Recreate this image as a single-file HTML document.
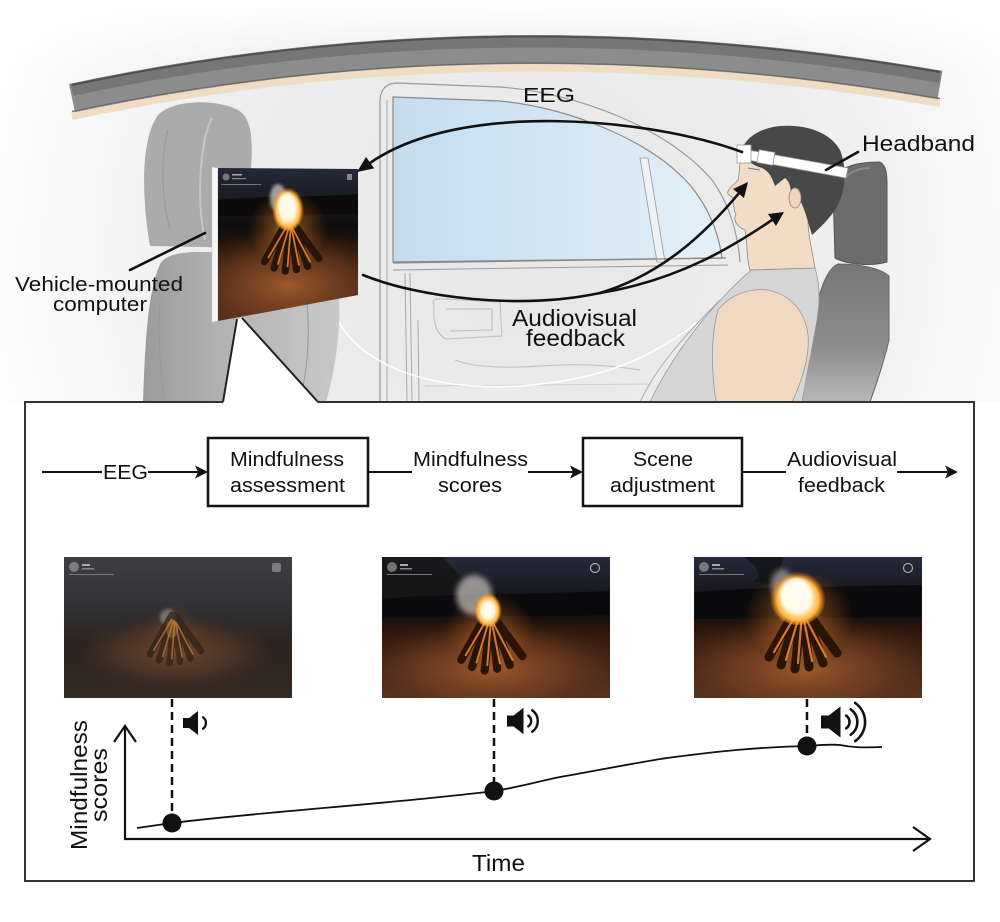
<!DOCTYPE html>
<html><head><meta charset="utf-8"><style>
html,body{margin:0;padding:0;background:#fff;}
svg{display:block;}
text{font-family:"Liberation Sans",Arial,sans-serif;fill:#111;}
</style></head><body>
<svg width="1000" height="922" viewBox="0 0 1000 922" xmlns="http://www.w3.org/2000/svg">
<defs>
 <radialGradient id="bg" cx="520" cy="250" r="560" gradientUnits="userSpaceOnUse">
  <stop offset="0" stop-color="#e7e7e7"/>
  <stop offset="0.55" stop-color="#ededed"/>
  <stop offset="1" stop-color="#ffffff"/>
 </radialGradient>
 <linearGradient id="topfade" x1="0" y1="0" x2="0" y2="1">
  <stop offset="0" stop-color="#fff" stop-opacity="1"/>
  <stop offset="1" stop-color="#fff" stop-opacity="0"/>
 </linearGradient>
 <linearGradient id="win" x1="0" y1="0" x2="1" y2="0">
  <stop offset="0" stop-color="#c4dcee"/>
  <stop offset="0.5" stop-color="#d3e6f4"/>
  <stop offset="1" stop-color="#e4f0f8"/>
 </linearGradient>
 <linearGradient id="seatL" x1="0" y1="0" x2="1" y2="0">
  <stop offset="0" stop-color="#9c9c9c"/>
  <stop offset="0.4" stop-color="#b2b2b2"/>
  <stop offset="1" stop-color="#c8c8c8"/>
 </linearGradient>
 <linearGradient id="seatR" x1="0" y1="0" x2="0" y2="1">
  <stop offset="0" stop-color="#777"/>
  <stop offset="0.6" stop-color="#8c8c8c"/>
  <stop offset="1" stop-color="#b8b8b8"/>
 </linearGradient>
 <linearGradient id="skyB" x1="0" y1="0" x2="0" y2="1">
  <stop offset="0" stop-color="#262a3c"/>
  <stop offset="0.18" stop-color="#1c1d26"/>
  <stop offset="0.38" stop-color="#0e0c0d"/>
  <stop offset="0.55" stop-color="#32190e"/>
  <stop offset="1" stop-color="#5a3420"/>
 </linearGradient>
 <linearGradient id="skyF" x1="0" y1="0" x2="0" y2="1">
  <stop offset="0" stop-color="#3a3a40"/>
  <stop offset="0.35" stop-color="#2a292c"/>
  <stop offset="0.6" stop-color="#22170f"/>
  <stop offset="1" stop-color="#2e1d14"/>
 </linearGradient>
 <radialGradient id="groundGlow">
  <stop offset="0" stop-color="#a85f2e" stop-opacity="0.9"/>
  <stop offset="0.6" stop-color="#733f20" stop-opacity="0.6"/>
  <stop offset="1" stop-color="#4a2a18" stop-opacity="0"/>
 </radialGradient>
 <radialGradient id="fireGlow">
  <stop offset="0" stop-color="#ffc060" stop-opacity="0.8"/>
  <stop offset="0.35" stop-color="#ff9a30" stop-opacity="0.35"/>
  <stop offset="1" stop-color="#ff7a10" stop-opacity="0"/>
 </radialGradient>
 <radialGradient id="flame" cx="0.5" cy="0.55" r="0.5">
  <stop offset="0" stop-color="#ffffff"/>
  <stop offset="0.45" stop-color="#fff3cc"/>
  <stop offset="0.75" stop-color="#ffb440"/>
  <stop offset="1" stop-color="#ff7a10" stop-opacity="0"/>
 </radialGradient>
 <filter id="blur3"><feGaussianBlur stdDeviation="3"/></filter>
 <filter id="blur2"><feGaussianBlur stdDeviation="1.5"/></filter>
 <clipPath id="clipScene"><rect x="0" y="0" width="228" height="141"/></clipPath>
 <clipPath id="clipScreen"><polygon points="218,168 358,169 358,295 218,321"/></clipPath>
 <g id="logs">
  <path d="M-32,52 L-3,0 M-20,60 L-1,0 M-6,64 L1,0 M8,62 L2,2 M22,58 L3,2 M36,48 L4,4" stroke="#2a1408" stroke-width="9" stroke-linecap="round" fill="none"/>
  <path d="M-27,47 L-3,6 M-15,55 L-1,8 M-3,58 L1,8 M11,56 L2,10 M25,52 L3,10" stroke="#e8862e" stroke-width="2.2" stroke-linecap="round" fill="none" opacity="0.9"/>
 </g>
</defs>

<!-- ============ TOP ILLUSTRATION ============ -->
<rect x="0" y="0" width="1000" height="402" fill="url(#bg)"/>
<rect x="0" y="0" width="1000" height="70" fill="url(#topfade)"/>

<!-- roof band -->
<path d="M72,116 Q494,26 940,103" fill="none" stroke="#efdcc3" stroke-width="8"/>
<path d="M72,98 Q494,8 940,85" fill="none" stroke="#8c8c8c" stroke-width="29"/>
<path d="M72,90 Q494,0 940,77" fill="none" stroke="#767676" stroke-width="12"/>
<path d="M72,85 Q494,-5 940,72" fill="none" stroke="#505050" stroke-width="2"/>
<path d="M72,111.5 Q494,21.5 940,98.5" fill="none" stroke="#6a6a6a" stroke-width="1.2"/>

<!-- window & door -->
<path d="M380,402 L380,100 Q381,84 396,83 L500,87 C580,93 670,130 712,180 C730,205 738,235 740,262" fill="none" stroke="#9a9a9a" stroke-width="1.2"/>
<path d="M393,97 L500,101 C570,108 650,140 690,185 C708,207 718,230 722,258 L393,262 Z" fill="url(#win)" stroke="#8a8a8a" stroke-width="1.2"/>
<polygon points="640,158 648,158 665,262 657,262" fill="#eef3f6" stroke="#999" stroke-width="0.8"/>
<path d="M393,263 L726,258" stroke="#888" stroke-width="1.2"/>
<path d="M393,270 L728,265" stroke="#999" stroke-width="1"/>
<path d="M387,100 L387,402 M405,273 L407,402 M410,273 L412,402 M418,320 L419,402" stroke="#aaa" stroke-width="1" fill="none"/>
<path d="M434,305 Q430,298 444,299 L500,302 L502,336 L446,339 Q432,332 434,305 Z M446,309 L492,309 L492,330 L450,331" fill="none" stroke="#c2c2c2" stroke-width="1.2"/>
<path d="M455,360 Q480,370 540,366 Q590,362 640,370" fill="none" stroke="#c2c2c2" stroke-width="1.2"/>
<path d="M425,386 L650,384" fill="none" stroke="#cfcfcf" stroke-width="1"/>
<path d="M330,300 C345,360 420,392 520,386 C600,380 650,360 700,320" fill="none" stroke="#ffffff" stroke-width="1.5"/>

<!-- left seat -->
<path d="M143,402 C145,340 148,292 160,264 C165,255 180,252 200,252 L212,252 L332,262 C343,292 342,345 326,402 Z" fill="url(#seatL)"/>
<path d="M150,246 C142,200 140,140 158,115 C172,100 215,98 238,110 C252,118 253,140 251,170 L251,248 Z" fill="#ababab"/>
<path d="M212,118 C200,140 196,200 205,240" fill="none" stroke="#c6c6c6" stroke-width="2"/>
<path d="M168,130 C160,160 162,200 170,230" fill="none" stroke="#999" stroke-width="1"/>
<path d="M160,300 C158,340 160,370 165,402 M300,270 C310,300 312,350 300,402" fill="none" stroke="#9a9a9a" stroke-width="1"/>

<!-- screen -->
<polygon points="212,167 218,168 218,321 212,322" fill="#f6f6f6" stroke="#ccc" stroke-width="0.5"/>
<g clip-path="url(#clipScreen)">
 <rect x="218" y="165" width="142" height="160" fill="url(#skyB)"/>
 <path d="M218,200 C250,196 300,198 358,194 L358,214 L218,216 Z" fill="#0c0a0a"/>
 <ellipse cx="288" cy="285" rx="110" ry="55" fill="url(#groundGlow)"/>
 <ellipse cx="288" cy="230" rx="40" ry="40" fill="url(#fireGlow)"/>
 <ellipse cx="278" cy="198" rx="8" ry="14" fill="#d8d2cc" opacity="0.7" filter="url(#blur2)"/>
 <use href="#logs" transform="translate(290,220) scale(0.8)"/>
 <ellipse cx="288" cy="208" rx="16" ry="23" fill="url(#flame)"/>
 <ellipse cx="287" cy="206" rx="9" ry="13" fill="#fffbe8" filter="url(#blur2)"/>
 <circle cx="226" cy="177" r="3.5" fill="#9a9a9a" opacity="0.7"/>
 <rect x="232" y="174" width="10" height="1.5" fill="#aaa"/>
 <rect x="232" y="178" width="14" height="1.2" fill="#888"/>
 <rect x="221" y="184" width="40" height="1" fill="#777"/>
 <rect x="347" y="174" width="5" height="6" fill="#888"/>
</g>

<!-- right person -->
<path d="M833,186 C833,170 850,162 880,162 C887,166 887,176 887,186 L887,262 C870,267 846,264 835,258 Z" fill="#6c6c6c" stroke="#555" stroke-width="1"/>
<path d="M840,190 C842,175 855,168 870,168" fill="none" stroke="#8a8a8a" stroke-width="2"/>
<path d="M838,264 C860,264 880,268 889,276 L889,340 C882,370 874,390 870,402 L785,402 C800,370 812,330 818,300 C822,285 828,268 838,264 Z" fill="url(#seatR)" stroke="#666" stroke-width="1"/>
<path d="M650,402 C670,360 700,320 730,290 C740,280 748,272 752,270 L815,268 C820,285 820,300 817,320 L802,402 Z" fill="#d6d6d6" stroke="#999" stroke-width="0.8"/>
<path d="M640,402 C655,370 680,340 720,300" fill="none" stroke="#aaa" stroke-width="1"/>
<path d="M718,310 C730,295 748,288 768,290 C790,295 805,310 808,335 C810,360 800,385 792,402 L716,402 C711,370 711,335 718,310 Z" fill="#f1d8c2" stroke="#999" stroke-width="0.8"/>
<!-- head -->
<path d="M745,150 C738,160 740,175 738,180 C733,186 726,190 728,194 C731,197 735,198 733,202 C735,206 733,210 736,214 C733,220 736,226 745,230 C748,245 746,258 750,270 L815,268 C812,250 808,235 808,220 L820,200 L790,150 Z" fill="#f3dcc6" stroke="#8a8a8a" stroke-width="0.8"/>
<path d="M742,150 C745,138 760,128 780,126 C805,124 830,132 840,150 C848,170 845,195 835,210 C828,220 820,228 812,235 C808,222 805,210 800,200 L790,198 C792,190 790,182 785,178 L775,186 C772,178 770,172 762,168 C752,165 745,160 742,150 Z" fill="#484848"/>
<ellipse cx="795" cy="198" rx="6" ry="10" fill="#f0d4bc" stroke="#888" stroke-width="0.8"/>
<path d="M748,150 L848,168 L846,178 L748,160 Z" fill="#ffffff" stroke="#999" stroke-width="0.8"/>
<rect x="737" y="145" width="14" height="18" fill="#ffffff" stroke="#999" stroke-width="0.8"/>
<rect x="758" y="151" width="16" height="13" fill="#ffffff" stroke="#999" stroke-width="0.8" transform="rotate(10 766 157)"/>
<path d="M748,168 L760,170" stroke="#777" stroke-width="1"/>

<!-- arrows -->
<g fill="none" stroke="#111" stroke-width="2.6" stroke-linecap="round">
 <path d="M742,152 C650,118 460,100 370,163"/>
 <path d="M363,275 C420,298 520,310 600,293"/>
 <path d="M600,293 C660,275 703,236 738.5,193.7"/>
 <path d="M600,293 C680,280 735,245 772,220"/>
 <path d="M858,152 L826,170"/>
 <path d="M130,270 L205,233"/>
</g>
<polygon points="357,172 374.2,168.4 366,157" fill="#111"/>
<polygon points="748,182 744,198 733,189" fill="#111"/>
<polygon points="784,212 776,226 768,214" fill="#111"/>

<!-- top labels -->
<text x="523" y="102" font-size="20" textLength="52" lengthAdjust="spacingAndGlyphs">EEG</text>
<text x="862" y="151" font-size="22" textLength="113" lengthAdjust="spacingAndGlyphs">Headband</text>
<text x="512" y="326" font-size="23" textLength="125" lengthAdjust="spacingAndGlyphs">Audiovisual</text>
<text x="526" y="346" font-size="23" textLength="99" lengthAdjust="spacingAndGlyphs">feedback</text>
<text x="15" y="291" font-size="20.5" textLength="168" lengthAdjust="spacingAndGlyphs">Vehicle-mounted</text>
<text x="53" y="311" font-size="20.5" textLength="94" lengthAdjust="spacingAndGlyphs">computer</text>

<!-- ============ BOTTOM PANEL ============ -->
<rect x="0" y="402" width="1000" height="520" fill="#fff"/>
<polygon points="223,403 237,319 242,318 318,403" fill="#fff"/>
<path d="M223,402 H25 V881 H974 V402 H318" fill="none" stroke="#333" stroke-width="2"/>
<path d="M223,402 L237,319 M242,318 L318,402" fill="none" stroke="#222" stroke-width="2"/>

<!-- flow row -->
<g stroke="#111" stroke-width="2" fill="none">
 <path d="M42,472 H102 M148,472 H199 M368,472 H412 M528,472 H574 M742,472 H786 M897,472 H949"/>
</g>
<polygon points="208,472 195,465.5 198,472 195,478.5" fill="#111"/>
<polygon points="583,472 570,465.5 573,472 570,478.5" fill="#111"/>
<polygon points="958,472 945,465.5 948,472 945,478.5" fill="#111"/>
<rect x="208" y="438" width="160" height="68" fill="#fff" stroke="#111" stroke-width="2.5"/>
<rect x="583" y="438" width="159" height="68" fill="#fff" stroke="#111" stroke-width="2.5"/>
<g font-size="20">
 <text x="103" y="479" textLength="45" lengthAdjust="spacingAndGlyphs">EEG</text>
 <text x="230" y="466" textLength="114" lengthAdjust="spacingAndGlyphs">Mindfulness</text>
 <text x="230" y="492" textLength="115" lengthAdjust="spacingAndGlyphs">assessment</text>
 <text x="413" y="466" textLength="115" lengthAdjust="spacingAndGlyphs">Mindfulness</text>
 <text x="438" y="492" textLength="64" lengthAdjust="spacingAndGlyphs">scores</text>
 <text x="633" y="466" textLength="60" lengthAdjust="spacingAndGlyphs">Scene</text>
 <text x="610" y="492" textLength="105" lengthAdjust="spacingAndGlyphs">adjustment</text>
 <text x="787" y="466" textLength="110" lengthAdjust="spacingAndGlyphs">Audiovisual</text>
 <text x="798" y="492" textLength="87" lengthAdjust="spacingAndGlyphs">feedback</text>
</g>

<!-- scene 1 (foggy, dim) -->
<g transform="translate(64,557)"><g clip-path="url(#clipScene)">
 <rect width="228" height="141" fill="url(#skyF)"/>
 <ellipse cx="112" cy="95" rx="100" ry="38" fill="url(#groundGlow)" opacity="0.75"/>
 <ellipse cx="110" cy="75" rx="30" ry="28" fill="url(#fireGlow)" opacity="0.35"/>
 <ellipse cx="104" cy="60" rx="8" ry="8" fill="#c9c0b8" opacity="0.55" filter="url(#blur2)"/>
 <g opacity="0.75"><use href="#logs" transform="translate(110,58) scale(0.75)"/></g>
 <ellipse cx="108" cy="72" rx="6" ry="9" fill="#ff9a30" opacity="0.35"/>
 <rect width="228" height="141" fill="#4a4a50" opacity="0.25"/>
 <circle cx="10" cy="10" r="5" fill="#9a9a9a" opacity="0.7"/>
 <rect x="18" y="7" width="8" height="2" fill="#aaa"/>
 <rect x="18" y="11" width="12" height="1.5" fill="#888"/>
 <rect x="5" y="17" width="45" height="1" fill="#777"/>
 <rect x="208" y="6" width="9" height="9" rx="2" fill="#999" opacity="0.7"/>
</g></g>

<!-- scene 2 (medium) -->
<g transform="translate(382,557)"><g clip-path="url(#clipScene)">
 <rect width="228" height="141" fill="url(#skyB)"/>
 <path d="M0,0 H60 C70,10 80,18 85,30 L60,40 L0,42 Z" fill="#151515" opacity="0.8"/>
 <path d="M0,42 C60,36 140,38 228,34 L228,58 L0,60 Z" fill="#0b0a0c"/>
 <ellipse cx="110" cy="112" rx="135" ry="50" fill="url(#groundGlow)"/>
 <ellipse cx="108" cy="75" rx="45" ry="40" fill="url(#fireGlow)" opacity="0.8"/>
 <ellipse cx="92" cy="38" rx="18" ry="20" fill="#d8d2cc" opacity="0.65" filter="url(#blur3)"/>
 <use href="#logs" transform="translate(108,56) scale(0.9)"/>
 <ellipse cx="106" cy="52" rx="14" ry="18" fill="url(#flame)"/>
 <ellipse cx="106" cy="52" rx="6" ry="8" fill="#fffbe8" filter="url(#blur2)"/>
 <circle cx="10" cy="10" r="5" fill="#9a9a9a" opacity="0.7"/>
 <rect x="18" y="7" width="8" height="2" fill="#aaa"/>
 <rect x="18" y="11" width="12" height="1.5" fill="#888"/>
 <rect x="5" y="17" width="45" height="1" fill="#777"/>
 <circle cx="213" cy="11" r="4.5" fill="none" stroke="#aaa" stroke-width="1.2"/>
</g></g>

<!-- scene 3 (bright) -->
<g transform="translate(694,557)"><g clip-path="url(#clipScene)">
 <rect width="228" height="141" fill="url(#skyB)"/>
 <path d="M50,0 C60,8 70,15 60,25 L80,28 L90,0 Z" fill="#111" opacity="0.7"/>
 <path d="M0,35 C60,30 140,30 228,28 L228,60 L0,62 Z" fill="#0b0a0c"/>
 <ellipse cx="110" cy="112" rx="140" ry="55" fill="url(#groundGlow)"/>
 <ellipse cx="105" cy="60" rx="55" ry="48" fill="url(#fireGlow)"/>
 <ellipse cx="88" cy="28" rx="11" ry="16" fill="#bdb6b0" opacity="0.6" filter="url(#blur3)"/>
 <use href="#logs" transform="translate(107,48)"/>
 <ellipse cx="104" cy="40" rx="28" ry="28" fill="url(#flame)"/>
 <ellipse cx="102" cy="38" rx="16" ry="17" fill="#fffbee" filter="url(#blur2)"/>
 <circle cx="10" cy="10" r="5" fill="#9a9a9a" opacity="0.7"/>
 <rect x="18" y="7" width="8" height="2" fill="#aaa"/>
 <rect x="18" y="11" width="12" height="1.5" fill="#888"/>
 <rect x="5" y="17" width="45" height="1" fill="#777"/>
 <circle cx="214" cy="11" r="4.5" fill="none" stroke="#aaa" stroke-width="1.2"/>
</g></g>

<!-- dashed drops -->
<g stroke="#111" stroke-width="2.5" stroke-dasharray="8,5" fill="none">
 <path d="M172,699 V815"/>
 <path d="M494,699 V783"/>
 <path d="M807,699 V738"/>
</g>

<!-- speakers -->
<g transform="translate(183,723)">
 <path d="M0,-5 H6 L15,-12 V12 L6,5 H0 Z" fill="#111"/>
 <path d="M20,-5.7 A7,7 0 0 1 20,5.7" fill="none" stroke="#111" stroke-width="2.3" stroke-linecap="round"/>
</g>
<g transform="translate(507,721) scale(1.1)">
 <path d="M0,-5 H6 L15,-12 V12 L6,5 H0 Z" fill="#111"/>
 <path d="M19.4,-4.9 A6,6 0 0 1 19.4,4.9 M22.9,-9.8 A12,12 0 0 1 22.9,9.8" fill="none" stroke="#111" stroke-width="2.2" stroke-linecap="round"/>
</g>
<g transform="translate(821,722) scale(1.3)">
 <path d="M0,-5 H6 L15,-12 V12 L6,5 H0 Z" fill="#111"/>
 <path d="M19.4,-4.9 A6,6 0 0 1 19.4,4.9 M22.9,-9.8 A12,12 0 0 1 22.9,9.8 M26.3,-14.7 A18,18 0 0 1 26.3,14.7" fill="none" stroke="#111" stroke-width="2" stroke-linecap="round"/>
</g>

<!-- graph -->
<g fill="none" stroke="#111" stroke-width="2.2" stroke-linejoin="miter">
 <path d="M125,726 V839 H929"/>
 <path d="M114,742 L125,726 L136,742"/>
 <path d="M913,827 L930,839 L913,851"/>
</g>
<path d="M137,828 L172,823 C260,812 400,803 494,791 C520,787 540,781 560,777 C600,770 640,762 667,758 C720,751 760,747 807,746 C820,745 830,744 840,745 C850,747 860,748 882,747" fill="none" stroke="#111" stroke-width="1.8"/>
<circle cx="172" cy="823" r="9.5" fill="#111"/>
<circle cx="494" cy="791" r="9.5" fill="#111"/>
<circle cx="807" cy="746" r="9.5" fill="#111"/>

<text x="472" y="871" font-size="23" textLength="53" lengthAdjust="spacingAndGlyphs">Time</text>
<text transform="translate(87,850) rotate(-90)" font-size="23" textLength="130" lengthAdjust="spacingAndGlyphs">Mindfulness</text>
<text transform="translate(107,822) rotate(-90)" font-size="23" textLength="74" lengthAdjust="spacingAndGlyphs">scores</text>
</svg>
</body></html>
